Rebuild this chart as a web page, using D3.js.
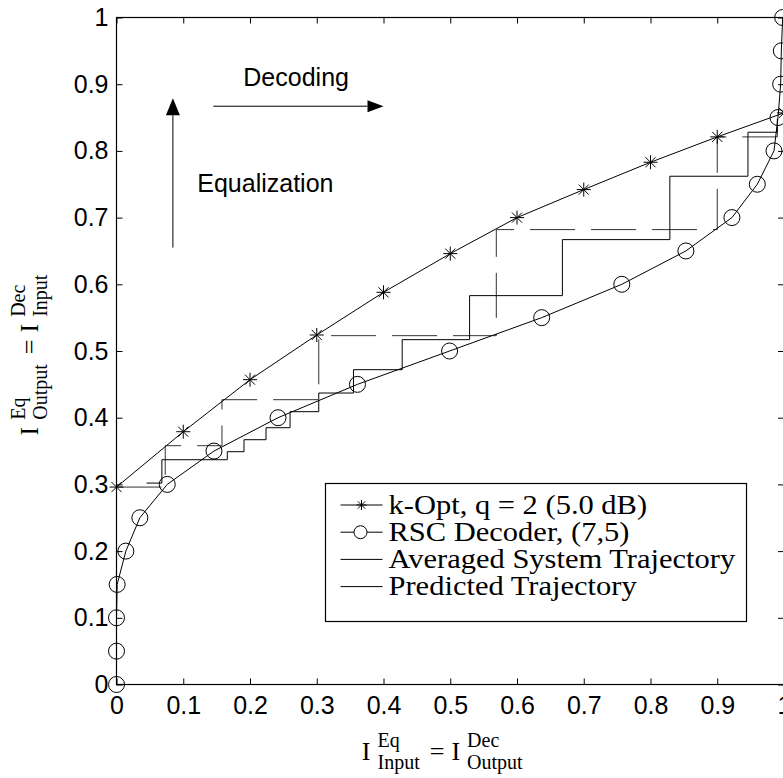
<!DOCTYPE html>
<html>
<head>
<meta charset="utf-8">
<script src="https://cdn.jsdelivr.net/npm/d3@7"></script>
<style>
  body { margin: 0; background: #fff; }
  svg { display: block; }
</style>
</head>
<body>
<script>
(function() {
  'use strict';

  // tick values and labels, same on both axes
  var ticks = [0, 0.1, 0.2, 0.3, 0.4, 0.5, 0.6, 0.7, 0.8, 0.9, 1];
  var tickLabels = ['0', '0.1', '0.2', '0.3', '0.4', '0.5', '0.6', '0.7', '0.8', '0.9', '1'];

  // equalizer transfer curve: k-Opt, q = 2 (5.0 dB)
  var eqX = [0, 0.1, 0.2, 0.3, 0.4, 0.5, 0.6, 0.7, 0.8, 0.9, 1];
  var eqY = [0.296, 0.379, 0.457, 0.524, 0.588, 0.646, 0.700, 0.742, 0.783, 0.821, 0.857];

  // RSC (7,5) decoder curve (plotted with swapped axes)
  var decY = [0, 0.05, 0.1, 0.15, 0.2, 0.25, 0.3, 0.35, 0.4, 0.45, 0.5,
              0.55, 0.6, 0.65, 0.7, 0.75, 0.8, 0.85, 0.9, 0.95, 1];
  var decX = [0, 0, 0, 0.001, 0.014, 0.035, 0.076, 0.146, 0.242, 0.361, 0.499,
              0.637, 0.757, 0.853, 0.922, 0.960, 0.985, 0.991, 0.995, 0.996, 0.998];

  // averaged system trajectory (staircase corners)
  var avgX = [0.045, 0.068, 0.166, 0.191, 0.224, 0.260, 0.303, 0.355, 0.428, 0.529, 0.668, 0.829, 0.946, 0.990];
  var avgY = [0.302, 0.337, 0.349, 0.367, 0.385, 0.409, 0.437, 0.472, 0.517, 0.583, 0.667, 0.762, 0.828, 0.848];

  // predicted trajectory (staircase corners)
  var predX = [0, 0.073, 0.158, 0.303, 0.569, 0.900, 0.990];
  var predY = [0.296, 0.358, 0.427, 0.523, 0.682, 0.821, 0.852];

  var legendLabels = ['k-Opt, q = 2 (5.0 dB)', 'RSC Decoder, (7,5)',
                      'Averaged System Trajectory', 'Predicted Trajectory'];

  var w = 783;
  var h = 778;
  var sans = '"Liberation Sans", Arial, Helvetica, sans-serif';
  var serif = '"Liberation Serif", "Times New Roman", Times, serif';

  var x = d3.scaleLinear().domain([0, 1]).range([116.5, 784]);
  var y = d3.scaleLinear().domain([0, 1]).range([684.5, 17.5]);

  var svg = d3.select('body')
    .append('svg')
    .attr('width', w)
    .attr('height', h)
    .style('background', '#fff');

  function zip(xs, ys) {
    return xs.map(function(d, i) { return [d, ys[i]]; });
  }

  function starPath(r) {
    var d = r * 0.72;
    return 'M' + (-r) + ',0L' + r + ',0M0,' + (-r) + 'L0,' + r +
      'M' + (-d) + ',' + (-d) + 'L' + d + ',' + d +
      'M' + (-d) + ',' + d + 'L' + d + ',' + (-d);
  }

  function drawAxes() {
    var fmt = function(d, i) { return tickLabels[i]; };

    svg.append('g')
      .attr('transform', 'translate(0,' + y(0) + ')')
      .call(d3.axisBottom(x).tickValues(ticks).tickFormat(fmt)
        .tickSizeInner(-6).tickSizeOuter(0).tickPadding(12));
    svg.append('g')
      .attr('transform', 'translate(' + x(0) + ',0)')
      .call(d3.axisLeft(y).tickValues(ticks).tickFormat(fmt)
        .tickSizeInner(-6).tickSizeOuter(0).tickPadding(8));
    svg.append('g')
      .attr('transform', 'translate(0,' + y(1) + ')')
      .call(d3.axisTop(x).tickValues(ticks).tickFormat('')
        .tickSizeInner(-6).tickSizeOuter(0));
    svg.append('g')
      .attr('transform', 'translate(' + x(1) + ',0)')
      .call(d3.axisRight(y).tickValues(ticks).tickFormat('')
        .tickSizeInner(-6).tickSizeOuter(0));

    svg.selectAll('.domain').remove();
    svg.selectAll('.tick line').attr('stroke', '#000');
    svg.selectAll('.tick text')
      .attr('font-family', sans)
      .attr('font-size', 25)
      .attr('fill', '#000');

    svg.append('rect')
      .attr('x', x(0))
      .attr('y', y(1))
      .attr('width', x(1) - x(0))
      .attr('height', y(0) - y(1))
      .attr('fill', 'none')
      .attr('stroke', '#000')
      .attr('stroke-width', 1.2);
  }

  // I^{sup}_{sub} = I^{sup}_{sub}, centred on the group origin
  function infoLabel(g, sup1, sub1, sup2, sub2) {
    var inner = g.append('g');
    var pos = 0;

    function big(str) {
      var t = inner.append('text').attr('x', pos).attr('font-size', 26).text(str);
      pos += t.node().getComputedTextLength();
    }
    function scripts(sup, sub) {
      var a = inner.append('text').attr('x', pos).attr('y', -13).attr('font-size', 20).text(sup);
      var b = inner.append('text').attr('x', pos).attr('y', 9).attr('font-size', 20).text(sub);
      pos += Math.max(a.node().getComputedTextLength(), b.node().getComputedTextLength());
    }

    big('I'); pos += 7;
    scripts(sup1, sub1); pos += 10;
    big('='); pos += 7;
    big('I'); pos += 7;
    scripts(sup2, sub2);

    inner.attr('transform', 'translate(' + (-pos / 2) + ',0)');
  }

  function drawLabels() {
    var gx = svg.append('g')
      .attr('transform', 'translate(' + (x(0.5) - 8) + ',760)')
      .attr('font-family', serif)
      .attr('fill', '#000');
    infoLabel(gx, 'Eq', 'Input', 'Dec', 'Output');

    var gy = svg.append('g')
      .attr('transform', 'translate(38,' + (y(0.5) + 4) + ') rotate(-90)')
      .attr('font-family', serif)
      .attr('fill', '#000');
    infoLabel(gy, 'Eq', 'Output', 'Dec', 'Input');
  }

  function drawCurves() {
    var line = d3.line()
      .x(function(d) { return x(d[0]); })
      .y(function(d) { return y(d[1]); });
    var step = d3.line()
      .curve(d3.curveStepAfter)
      .x(function(d) { return x(d[0]); })
      .y(function(d) { return y(d[1]); });

    svg.append('path')
      .datum(zip(predX, predY))
      .attr('d', step)
      .attr('fill', 'none')
      .attr('stroke', '#333')
      .attr('stroke-width', 1)
      .attr('stroke-dasharray', '45,16');

    svg.append('path')
      .datum(zip(avgX, avgY))
      .attr('d', step)
      .attr('fill', 'none')
      .attr('stroke', '#000')
      .attr('stroke-width', 1);

    svg.append('path')
      .datum(zip(eqX, eqY))
      .attr('d', line)
      .attr('fill', 'none')
      .attr('stroke', '#000')
      .attr('stroke-width', 1);

    svg.append('path')
      .datum(zip(decX, decY))
      .attr('d', line)
      .attr('fill', 'none')
      .attr('stroke', '#000')
      .attr('stroke-width', 1);

    svg.selectAll('path.star')
      .data(zip(eqX, eqY))
      .enter()
      .append('path')
      .attr('class', 'star')
      .attr('transform', function(d) { return 'translate(' + x(d[0]) + ',' + y(d[1]) + ')'; })
      .attr('d', starPath(7))
      .attr('stroke', '#000')
      .attr('stroke-width', 1);

    svg.selectAll('circle.dec')
      .data(zip(decX, decY))
      .enter()
      .append('circle')
      .attr('class', 'dec')
      .attr('cx', function(d) { return x(d[0]); })
      .attr('cy', function(d) { return y(d[1]); })
      .attr('r', 8)
      .attr('fill', 'none')
      .attr('stroke', '#000')
      .attr('stroke-width', 1);
  }

  function arrow(x1, y1, x2, y2, len, half) {
    var px1 = x(x1), py1 = y(y1), px2 = x(x2), py2 = y(y2);
    var a = Math.atan2(py2 - py1, px2 - px1);
    var bx = px2 - len * Math.cos(a), by = py2 - len * Math.sin(a);
    var nx = -Math.sin(a) * half, ny = Math.cos(a) * half;

    svg.append('line')
      .attr('x1', px1).attr('y1', py1)
      .attr('x2', bx).attr('y2', by)
      .attr('stroke', '#000')
      .attr('stroke-width', 1);
    svg.append('path')
      .attr('d', 'M' + px2 + ',' + py2 + 'L' + (bx + nx) + ',' + (by + ny) +
        'L' + (bx - nx) + ',' + (by - ny) + 'Z')
      .attr('fill', '#000');
  }

  function drawAnnotations() {
    arrow(0.145, 0.867, 0.4, 0.867, 16, 6);
    arrow(0.0845, 0.655, 0.0845, 0.879, 17, 7);

    svg.append('text')
      .attr('x', x(0.19))
      .attr('y', y(0.898))
      .attr('font-family', sans)
      .attr('font-size', 25)
      .text('Decoding');
    svg.append('text')
      .attr('x', x(0.121))
      .attr('y', y(0.739))
      .attr('font-family', sans)
      .attr('font-size', 25)
      .text('Equalization');
  }

  function drawLegend() {
    var lg = svg.append('g').attr('transform', 'translate(325.5,483.5)');

    lg.append('rect')
      .attr('width', 421)
      .attr('height', 138)
      .attr('fill', '#fff')
      .attr('stroke', '#000')
      .attr('stroke-width', 1.2);

    var rows = lg.selectAll('g.row')
      .data(legendLabels)
      .enter()
      .append('g')
      .attr('class', 'row')
      .attr('transform', function(d, i) { return 'translate(0,' + (21.5 + i * 27.2) + ')'; });

    rows.append('line')
      .attr('x1', 15).attr('x2', 57)
      .attr('stroke', '#000')
      .attr('stroke-width', 1);

    rows.filter(function(d, i) { return i === 0; })
      .append('path')
      .attr('transform', 'translate(36,0)')
      .attr('d', starPath(5))
      .attr('stroke', '#000');

    rows.filter(function(d, i) { return i === 1; })
      .append('circle')
      .attr('cx', 35)
      .attr('r', 6.5)
      .attr('fill', '#fff')
      .attr('stroke', '#000');

    // glyphs in the original are a little wider than Liberation Serif
    rows.append('text')
      .attr('transform', 'translate(63,8.5) scale(1.13,1)')
      .attr('font-family', serif)
      .attr('font-size', 27)
      .text(function(d) { return d; });
  }

  drawAxes();
  drawCurves();
  drawAnnotations();
  drawLabels();
  drawLegend();

})();
</script>
</body>
</html>
